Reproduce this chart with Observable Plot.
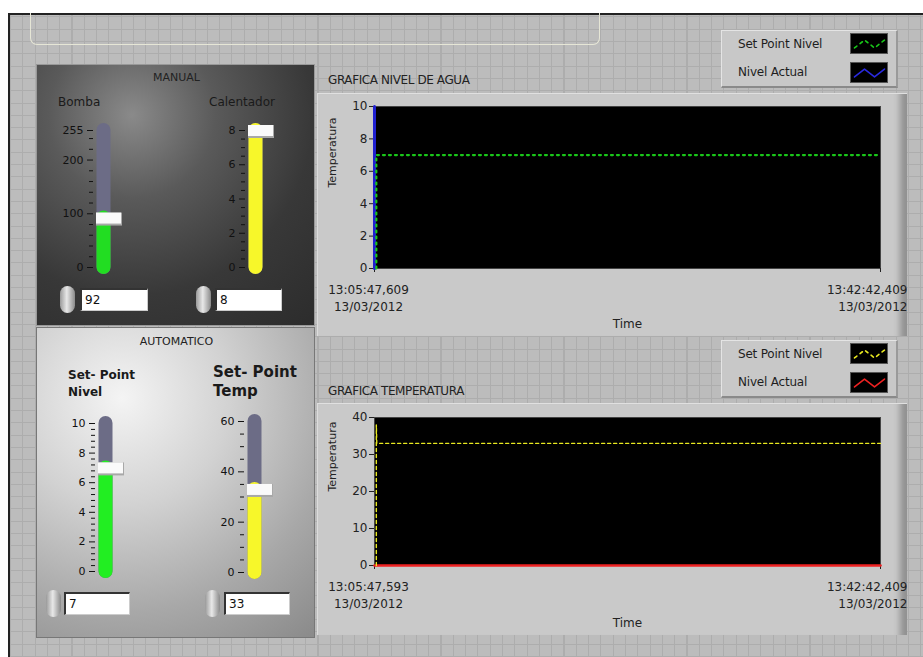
<!DOCTYPE html>
<html><head><meta charset="utf-8">
<script src="https://cdn.jsdelivr.net/npm/d3@7"></script>
<script src="https://cdn.jsdelivr.net/npm/@observablehq/plot@0.6"></script>
<style>
html,body{margin:0;padding:0;background:#fff;width:923px;height:657px;overflow:hidden;font-family:"DejaVu Sans",Arial,sans-serif;}
.abs{position:absolute;}
#frame{left:8px;top:13px;width:915px;height:644px;border-left:2px solid #222;border-top:2px solid #222;box-sizing:border-box;
 background-color:#bcbcbc;
 background-image:repeating-linear-gradient(90deg,#adadad 0 1px,transparent 1px 12.3px),repeating-linear-gradient(0deg,#adadad 0 1px,transparent 1px 12.3px);}
#topbox{width:570px;height:32px;border:1px solid #e6e6d6;border-top:none;border-radius:0 0 7px 7px;box-sizing:border-box;}
#manual{width:279px;height:262px;box-sizing:border-box;border:1px solid #999;
 background:radial-gradient(circle at 95px 50px,#8a8a8a 0%,#5a5a5a 30%,#383838 65%,#2c2c2c 100%);}
#auto{width:279px;height:311px;box-sizing:border-box;border:1px solid #777;
 background:radial-gradient(circle at 85px 70px,#f4f4f4 0%,#d2d2d2 35%,#a8a8a8 70%,#8a8a8a 100%);}
.ptitle{font-size:11px;color:#222;text-align:center;width:279px;left:0;}
.lbl{font-size:12px;color:#1a1a1a;white-space:nowrap;}
.big{font-weight:bold;line-height:17px;}
.panel{background:#c9c9c9;box-sizing:border-box;border-top:1px solid #e0e0e0;border-left:1px solid #dcdcdc;
 box-shadow:inset -13px 0 6px -6px rgba(0,0,0,0.28);}
.ctitle{font-size:12px;color:#222;white-space:nowrap;letter-spacing:-0.4px;}
.legend{background:#c8c8c8;box-sizing:border-box;border-top:1px solid #e4e4e4;border-left:1px solid #e4e4e4;border-bottom:2px solid #8a8a8a;border-right:2px solid #9a9a9a;width:177px;height:58px;}
.legtxt{font-size:12px;color:#1e1e1e;left:16px;white-space:nowrap;letter-spacing:-0.2px;}
.sw{left:128px;width:38px;height:21px;background:#000;border:1px solid #555;box-sizing:border-box;overflow:hidden;}
.spin{width:15px;height:27px;border-radius:8px;background:linear-gradient(90deg,#9a9a9a,#e8e8e8 45%,#8a8a8a);}
.num{height:23px;background:#fff;border-top:2px solid #333;border-left:2px solid #333;border-bottom:1px solid #ccc;border-right:1px solid #ccc;box-sizing:border-box;font-size:12px;line-height:20px;padding-left:3px;color:#111;}
.plotwrap{overflow:hidden;}
</style></head>
<body>
<div id="root"></div>
<script>
// ---------- data ----------
const sliderNames = ["Bomba", "Calentador", "Set- Point\nNivel", "Set- Point\nTemp"];
const sliderMax = [255, 8, 10, 60];
const sliderValues = [92, 8, 7, 33];
const sliderMajorTicks = [[0, 100, 200, 255], [0, 2, 4, 6, 8], [0, 2, 4, 6, 8, 10], [0, 20, 40, 60]];
const sliderMinorTicks = [
  [20, 40, 60, 80, 120, 140, 160, 180, 220, 240],
  [0.5, 1, 1.5, 2.5, 3, 3.5, 4.5, 5, 5.5, 6.5, 7, 7.5],
  [0.4, 0.8, 1.2, 1.6, 2.4, 2.8, 3.2, 3.6, 4.4, 4.8, 5.2, 5.6, 6.4, 6.8, 7.2, 7.6, 8.4, 8.8, 9.2, 9.6],
  [5, 10, 15, 25, 30, 35, 45, 50, 55]
];
const sliderColors = ["#22dd22", "#f7f72a", "#22ee22", "#f7f72a"];

// chart time axis, seconds since start
const tEnd = 2214.79;
const timeTicks = [0, tEnd];
const nivelTickTime = ["13:05:47,609", "13:42:42,409"];
const tempTickTime = ["13:05:47,593", "13:42:42,409"];
const tickDate = ["13/03/2012", "13/03/2012"];

// Grafica nivel de agua
const spNivelT = [8, 8, tEnd];
const spNivelV = [0, 7, 7];
const actNivelT = [0, 0];
const actNivelV = [0, 10];
// Grafica temperatura
const spTempT = [8, 8, 10, tEnd];
const spTempV = [0, 38, 33, 33];
const actTempT = [0, tEnd];
const actTempV = [0, 0];

const legendNames = ["Set Point Nivel", "Nivel Actual"];

// ---------- layout helpers ----------
const root = document.getElementById("root");
function div(cls, style, parent = root, html = "") {
  const d = document.createElement("div");
  d.className = "abs " + cls;
  Object.assign(d.style, style);
  d.innerHTML = html;
  parent.appendChild(d);
  return d;
}
const frame = div("", {}, root); frame.id = "frame";
const FX = 10, FY = 15; // frame content origin (inside border)
function at(x, y) { return {left: (x - FX) + "px", top: (y - FY) + "px"}; }

const topbox = div("", at(30, 13), frame); topbox.id = "topbox";

// Panels
const manual = div("", at(36, 64), frame); manual.id = "manual";
const auto = div("", at(36, 327), frame); auto.id = "auto";
div("ptitle", {top: "6px"}, manual, "MANUAL");
div("ptitle", {top: "7px"}, auto, "AUTOMATICO");

const FONT = {background: "transparent", fontFamily: "DejaVu Sans, Arial, sans-serif", fontSize: "11px", color: "#111", overflow: "visible"};

// ---------- sliders ----------
const sliderPos = [
  {cx: 103, yTop: 130, yBot: 267, lx: 58, ly: 95, box: [60, 80, 286, 68]},
  {cx: 255, yTop: 130, yBot: 267, lx: 209, ly: 95, box: [196, 215, 286, 67]},
  {cx: 105, yTop: 423, yBot: 571, lx: 68, ly: 367, box: [46, 64, 590, 66]},
  {cx: 254, yTop: 421, yBot: 572, lx: 213, ly: 363, box: [205, 224, 590, 66]}
];
sliderNames.forEach((name, i) => {
  const p = sliderPos[i];
  const lab = div("lbl" + (i >= 2 ? " big" : ""), at(p.lx, p.ly), frame, name.replace("\n", "<br>"));
  if (i === 3) { lab.style.fontSize = "15px"; lab.style.lineHeight = "19px"; }
  if (i === 2) { lab.style.fontSize = "12px"; }
  const mT = 16, mB = 16;
  const h = (p.yBot - p.yTop) + mT + mB;
  const chart = Plot.plot({
    width: 90, height: h, marginLeft: 45, marginRight: 25, marginTop: mT, marginBottom: mB,
    x: {domain: [-1, 1], axis: null},
    y: {domain: [0, sliderMax[i]], axis: null},
    style: FONT,
    marks: [
      Plot.axisY({ticks: sliderMinorTicks[i], tickSize: 4, tickFormat: () => "", stroke: "#111", label: null}),
      Plot.axisY({ticks: sliderMajorTicks[i], tickSize: 6, tickPadding: 4, fill: "#111", stroke: "#111", label: null}),
      Plot.ruleX([{x: 0, lo: 0, hi: sliderMax[i]}], {x: "x", y1: "lo", y2: "hi", stroke: "#6c6c86", strokeWidth: 14, strokeLinecap: "round"}),
      Plot.ruleX([{x: 0, lo: 0, hi: sliderValues[i]}], {x: "x", y1: "lo", y2: "hi", stroke: sliderColors[i], strokeWidth: 14, strokeLinecap: "round"}),
      Plot.ruleY([sliderValues[i]], {x1: -0.7, x2: 1.9, stroke: "#a8a8a8", strokeWidth: 13, dy: 1}),
      Plot.ruleY([sliderValues[i]], {x1: -0.7, x2: 1.8, stroke: "#fafafa", strokeWidth: 11})
    ]
  });
  const w = div("", at(p.cx - 55, p.yTop - mT), frame);
  w.appendChild(chart);
  // numeric control
  div("spin", at(p.box[0], p.box[2]), frame);
  div("num", Object.assign(at(p.box[1], p.box[2] + 2), {width: p.box[3] + "px"}), frame, String(sliderValues[i]));
});

// ---------- charts ----------
function chartPanel(opts) {
  const {top, height, frameTop, frameBottom, title, titleY, tickTimes, spT, spV, actT, actV, yDomain, yTicks, spColor, spDash, spWidth, actColor, actWidth} = opts;
  div("ctitle", at(328, titleY), frame, title);
  div("panel", Object.assign(at(317, top), {width: "590px", height: height + "px"}), frame);
  const wrap = div("plotwrap", Object.assign(at(317, top), {width: "590px", height: height + "px"}), frame);
  const spData = spT.map((t, k) => ({t, v: spV[k]}));
  const actData = actT.map((t, k) => ({t, v: actV[k]}));
  const tickLabels = timeTicks.map((t, k) => ({t, s: tickTimes[k] + "\n" + tickDate[k]}));
  const mTop = frameTop - top, mBot = (top + height) - frameBottom;
  const mRight = 27;
  const chart = Plot.plot({
    width: 590, height, marginLeft: 57, marginRight: mRight, marginTop: mTop, marginBottom: mBot,
    x: {domain: [0, tEnd], axis: null},
    y: {domain: yDomain, axis: null},
    style: Object.assign({}, FONT, {fontSize: "12px"}),
    marks: [
      Plot.frame({fill: "#000", stroke: "#444"}),
      Plot.axisY({ticks: yTicks, tickSize: 5, tickPadding: 2, fill: "#222", stroke: "#222", label: null}),
      Plot.axisX({ticks: timeTicks, tickSize: 4, tickFormat: () => "", stroke: "#222", label: null}),
      Plot.text(tickLabels.slice(0, 1), {x: "t", text: "s", frameAnchor: "bottom", dy: 13, dx: -6, lineAnchor: "top", lineHeight: 1.45, fill: "#222"}),
      Plot.text(tickLabels.slice(1), {x: "t", text: "s", frameAnchor: "bottom", dy: 13, dx: mRight, textAnchor: "end", lineAnchor: "top", lineHeight: 1.45, fill: "#222"}),
      Plot.text(["Temperatura"], {frameAnchor: "left", rotate: -90, dx: -42, fill: "#222", fontSize: 11}),
      Plot.text(["Time"], {frameAnchor: "bottom", dy: mBot - 9, fill: "#222", fontSize: 12}),
      Plot.line(actData, {x: "t", y: "v", stroke: actColor, strokeWidth: actWidth}),
      Plot.line(spData, {x: "t", y: "v", stroke: spColor, strokeWidth: spWidth, strokeDasharray: spDash})
    ]
  });
  wrap.appendChild(chart);
}

chartPanel({top: 93, height: 243, frameTop: 106, frameBottom: 268, title: "GRAFICA NIVEL DE AGUA", titleY: 73,
  tickTimes: nivelTickTime, spT: spNivelT, spV: spNivelV, actT: actNivelT, actV: actNivelV,
  yDomain: [0, 10], yTicks: [0, 2, 4, 6, 8, 10], spColor: "#19c619", spDash: "2,4", spWidth: 2.2, actColor: "#2020d0", actWidth: 3});
chartPanel({top: 403, height: 232, frameTop: 417, frameBottom: 565, title: "GRAFICA TEMPERATURA", titleY: 384,
  tickTimes: tempTickTime, spT: spTempT, spV: spTempV, actT: actTempT, actV: actTempV,
  yDomain: [0, 40], yTicks: [0, 10, 20, 30, 40], spColor: "#e8e820", spDash: "3,3", spWidth: 1.4, actColor: "#ee2222", actWidth: 2.5});

// ---------- legends ----------
const zig = [{i: 0, v: 0.2}, {i: 1, v: 0.8}, {i: 2, v: 0.2}, {i: 3, v: 0.8}];
function legend(top, colors, dashes) {
  const lg = div("legend", at(721, top), frame);
  legendNames.forEach((n, k) => {
    div("legtxt", {top: (k === 0 ? 6 : 34) + "px"}, lg, n);
    const sw = div("sw", {top: (k === 0 ? 2 : 31) + "px"}, lg);
    sw.appendChild(Plot.plot({width: 36, height: 19, margin: 3, x: {axis: null}, y: {axis: null, domain: [0, 1]},
      style: {background: "transparent"},
      marks: [Plot.line(zig, {x: "i", y: "v", stroke: colors[k], strokeWidth: 1.6, strokeDasharray: dashes[k]})]}));
  });
}
legend(30, ["#19c619", "#2a2ae0"], ["3,4", null]);
legend(340, ["#e8e820", "#ee2222"], ["3,4", null]);
</script>
</body></html>
